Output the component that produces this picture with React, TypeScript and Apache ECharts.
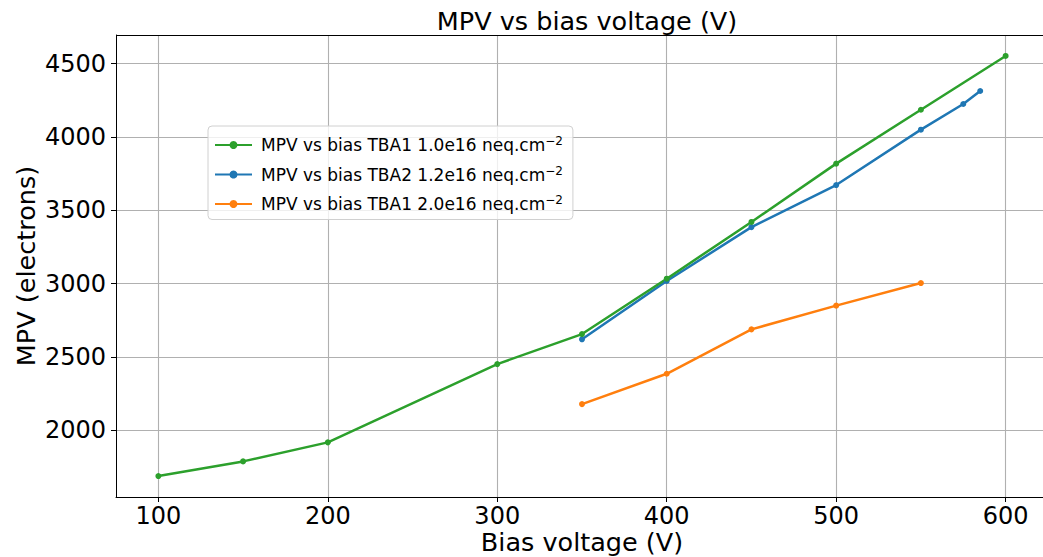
import React, { useEffect, useRef } from "react";
import * as echarts from "echarts";

const voltagesTBA1a: number[] = [100, 150, 200, 300, 350, 400, 450, 500, 550, 600];
const mpvTBA1a: number[] = [1686, 1786, 1916, 2450, 2655, 3033, 3420, 3818, 4186, 4553];

const voltagesTBA2: number[] = [350, 400, 450, 500, 550, 575, 585];
const mpvTBA2: number[] = [2619, 3017, 3385, 3672, 4050, 4225, 4314];

const voltagesTBA1b: number[] = [350, 400, 450, 500, 550];
const mpvTBA1b: number[] = [2177, 2384, 2687, 2849, 3003];

const xTicks: number[] = [100, 200, 300, 400, 500, 600];
const yTicks: number[] = [2000, 2500, 3000, 3500, 4000, 4500];

const nameA = "MPV vs bias TBA1 1.0e16 neq.cm";
const nameB = "MPV vs bias TBA2 1.2e16 neq.cm";
const nameC = "MPV vs bias TBA1 2.0e16 neq.cm";

const FONT = "DejaVu Sans";

function pairs(xs: number[], ys: number[]) {
  return xs.map((x, i) => [x, ys[i]]);
}

export default function App() {
  const ref = useRef<HTMLDivElement>(null);
  useEffect(() => {
    if (!ref.current) return;
    const chart = echarts.init(ref.current, undefined, { renderer: "svg" });
    const lineSeries = (name: string, xs: number[], ys: number[], color: string) => ({
      name,
      type: "line",
      data: pairs(xs, ys),
      symbol: "circle",
      symbolSize: 6,
      showSymbol: true,
      lineStyle: { color, width: 2.5 },
      itemStyle: { color },
    });
    chart.setOption({
      animation: false,
      backgroundColor: "#ffffff",
      textStyle: { fontFamily: FONT },
      title: {
        text: "MPV vs bias voltage (V)",
        left: 582,
        textAlign: "center",
        top: 3,
        textStyle: { fontFamily: FONT, fontSize: 25.5, fontWeight: "normal", color: "#000" },
      },
      grid: {
        left: 116,
        top: 35,
        width: 932,
        height: 462,
        show: false,
        outerBoundsMode: "none",
        containLabel: false,
      },
      graphic: [
        {
          type: "line",
          shape: { x1: 116, y1: 35.5, x2: 1060, y2: 35.5 },
          style: { stroke: "#000", lineWidth: 1 },
          z: 10,
        },
      ],
      legend: {
        orient: "vertical",
        left: 208,
        top: 126,
        data: [nameA, nameB, nameC],
        itemWidth: 37,
        itemHeight: 10,
        itemGap: 11,
        padding: [9, 10, 7, 6],
        backgroundColor: "rgba(255,255,255,0.8)",
        borderColor: "#d0d0d0",
        borderWidth: 1,
        borderRadius: 4,
        formatter: (n: string) => n + "{sup|−2}",
        textStyle: {
          fontFamily: FONT,
          fontSize: 17,
          color: "#000",
          padding: [0, 0, 0, 4],
          rich: {
            sup: { fontFamily: FONT, fontSize: 12, verticalAlign: "top", padding: [0, 0, 8, 0], color: "#000" },
          },
        },
      },
      xAxis: {
        type: "value",
        min: 75,
        max: 625,
        name: "Bias voltage (V)",
        nameLocation: "middle",
        nameGap: 32,
        nameMoveOverlap: false,
        nameTextStyle: { fontFamily: FONT, fontSize: 25.5, color: "#000" },
        axisLine: { show: true, lineStyle: { color: "#000", width: 1 } },
        axisTick: { show: true, length: 5, inside: false, customValues: xTicks, lineStyle: { color: "#000" } },
        axisLabel: {
          customValues: xTicks,
          fontFamily: FONT,
          fontSize: 24,
          color: "#000",
          margin: 7,
          formatter: (v: number) => String(v),
        },
        splitLine: { show: true, lineStyle: { color: "#b0b0b0", width: 1.1 } },
      },
      yAxis: {
        type: "value",
        min: 1543,
        max: 4696,
        name: "MPV (electrons)",
        nameLocation: "middle",
        nameGap: 77,
        nameMoveOverlap: false,
        nameTextStyle: { fontFamily: FONT, fontSize: 25.5, color: "#000" },
        axisLine: { show: true, lineStyle: { color: "#000", width: 1 } },
        axisTick: { show: true, length: 5, inside: false, customValues: yTicks, lineStyle: { color: "#000" } },
        axisLabel: {
          customValues: yTicks,
          fontFamily: FONT,
          fontSize: 24,
          color: "#000",
          margin: 10,
          formatter: (v: number) => String(v),
        },
        splitLine: { show: true, lineStyle: { color: "#b0b0b0", width: 1.1 } },
      },
      series: [
        lineSeries(nameC, voltagesTBA1b, mpvTBA1b, "#ff7f0e"),
        lineSeries(nameB, voltagesTBA2, mpvTBA2, "#1f77b4"),
        lineSeries(nameA, voltagesTBA1a, mpvTBA1a, "#2ca02c"),
      ],
    });
    return () => chart.dispose();
  }, []);
  return (
    <div
      style={{ position: "fixed", left: 0, top: 0, width: 1043, height: 557, overflow: "hidden", background: "#fff" }}
    >
      <div ref={ref} style={{ width: 1060, height: 557 }} />
    </div>
  );
}
